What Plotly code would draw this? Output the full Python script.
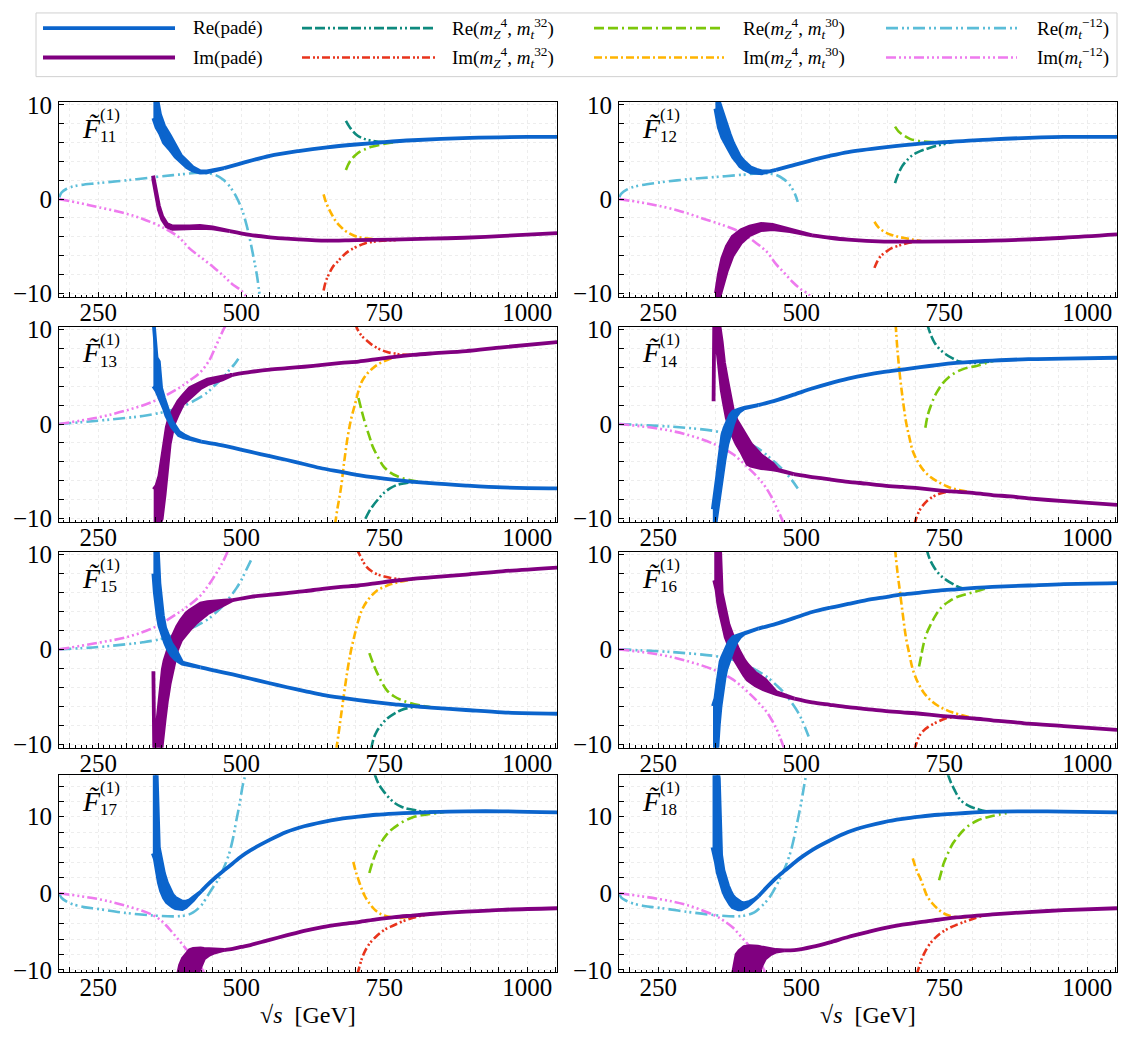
import plotly.graph_objects as go

FONT = "Liberation Serif, Times New Roman, serif"
FIG_W, FIG_H = 1123, 1044

X_RANGE = [181.5, 1052]
Y_RANGE_TOP = [-10.4, 10.3]
Y_RANGE_BOT = [-10.3, 15.4]
X_TICKS = list(range(200, 1051, 50))
X_TICKTEXT = [str(v) if v in (250, 500, 750, 1000) else "" for v in X_TICKS]
X_MINOR = [v for v in range(190, 1051, 10) if v % 50]
Y_TICKS_TOP = list(range(-10, 11, 2))
Y_TICKS_BOT = list(range(-10, 15, 2))
PANEL_IDS = ["11", "12", "13", "14", "15", "16", "17", "18"]

# ---------------- F11 ----------------
F11_RE_PADE_X = [346.5, 352, 358, 365, 375, 385, 395, 405, 415, 428, 440, 470, 500, 550, 600, 650, 700, 750, 800, 900, 1000, 1052]
F11_RE_PADE_LO = [8.6, 7.6, 7.0, 6.0, 5.3, 4.5, 3.9, 3.4, 3.05, 2.82, 2.85, 3.3, 3.8, 4.6, 5.1, 5.5, 5.8, 6.05, 6.25, 6.5, 6.6, 6.6]
F11_RE_PADE_HI = [11.0, 11.0, 9.0, 7.8, 6.8, 5.6, 4.6, 4.0, 3.4, 2.98, 2.95, 3.3, 3.8, 4.6, 5.1, 5.5, 5.8, 6.05, 6.25, 6.5, 6.6, 6.6]
F11_IM_PADE_X = [346, 349, 352, 356, 362, 370, 380, 395, 410, 428, 450, 480, 515, 550, 580, 640, 700, 765, 830, 890, 960, 1052]
F11_IM_PADE_LO = [2.2, 1.2, 0.2, -1.1, -2.15, -2.9, -3.15, -3.15, -3.1, -3.05, -3.1, -3.4, -3.8, -4.05, -4.2, -4.4, -4.35, -4.3, -4.2, -4.1, -3.9, -3.6]
F11_IM_PADE_HI = [2.5, 1.6, 0.6, -0.7, -1.85, -2.65, -2.9, -2.95, -2.9, -2.85, -3.0, -3.4, -3.8, -4.05, -4.2, -4.4, -4.35, -4.3, -4.2, -4.1, -3.9, -3.6]
F11_RE12_X = [182, 186, 195, 210, 250, 300, 350, 390, 428, 453, 470, 484, 495, 503, 510, 516, 522, 528, 533]
F11_RE12_Y = [0.2, 0.7, 1.1, 1.4, 1.7, 2.0, 2.35, 2.6, 2.8, 2.6, 2.0, 1.0, -0.2, -1.4, -2.9, -4.5, -6.3, -8.3, -10.6]
F11_IM12_X = [182, 220, 250, 290, 328, 366, 390, 409, 430, 453, 470, 484, 500, 512]
F11_IM12_Y = [0, -0.45, -0.85, -1.4, -2.1, -3.1, -4.0, -5.2, -6.2, -7.3, -8.2, -9.0, -9.7, -10.6]
F11_RE32_X = [683, 690, 703, 715, 728, 753, 780]
F11_RE32_Y = [8.3, 7.6, 6.75, 6.4, 6.2, 6.05, 6.15]
F11_RE30_X = [683, 690, 703, 715, 728, 753, 780]
F11_RE30_Y = [3.1, 4.0, 4.85, 5.25, 5.55, 5.9, 6.15]
F11_IM30_X = [644, 648, 653, 660, 666, 675, 684, 703, 734, 760]
F11_IM30_Y = [0.5, -0.3, -1.0, -1.8, -2.4, -3.0, -3.45, -4.0, -4.25, -4.3]
F11_IM32_X = [644, 648, 653, 660, 669, 680, 691, 716, 741, 770]
F11_IM32_Y = [-9.7, -8.7, -8.0, -7.2, -6.6, -5.9, -5.4, -4.7, -4.45, -4.35]

# ---------------- F12 ----------------
F12_RE_PADE_X = [350, 356, 362, 368, 375, 381, 387, 393, 400, 412, 422, 431, 445, 456, 480, 519, 550, 582, 645, 708, 750, 834, 959, 1052]
F12_RE_PADE_LO = [9.6, 7.6, 6.55, 5.8, 5.1, 4.45, 4.0, 3.5, 3.2, 2.85, 2.78, 2.75, 2.85, 3.1, 3.5, 4.15, 4.6, 5.0, 5.5, 5.9, 6.05, 6.35, 6.6, 6.6]
F12_RE_PADE_HI = [11.5, 10.4, 9.05, 8.0, 6.9, 5.95, 5.2, 4.5, 4.0, 3.35, 3.12, 2.95, 2.95, 3.1, 3.5, 4.15, 4.6, 5.0, 5.5, 5.9, 6.05, 6.35, 6.6, 6.6]
F12_IM_PADE_X = [351, 356, 362, 370, 380, 395, 410, 430, 450, 480, 519, 550, 582, 645, 708, 834, 959, 1052]
F12_IM_PADE_LO = [-11.0, -10.6, -9.5, -7.6, -6.0, -4.6, -3.8, -3.28, -3.18, -3.4, -3.85, -4.1, -4.3, -4.5, -4.5, -4.4, -4.1, -3.75]
F12_IM_PADE_HI = [-10.0, -8.0, -6.3, -5.0, -4.0, -3.3, -2.9, -2.62, -2.72, -3.2, -3.85, -4.1, -4.3, -4.5, -4.5, -4.4, -4.1, -3.75]
F12_RE12_X = [182, 186, 195, 210, 250, 300, 350, 400, 430, 455, 470, 480, 488, 494]
F12_RE12_Y = [0.2, 0.6, 1.0, 1.35, 1.75, 2.1, 2.35, 2.6, 2.75, 2.6, 2.1, 1.5, 0.7, -0.3]
F12_IM12_X = [182, 220, 250, 290, 330, 365, 393, 420, 440, 456, 470, 485, 500, 513, 518]
F12_IM12_Y = [0, -0.35, -0.7, -1.3, -2.1, -2.8, -3.5, -4.6, -5.6, -6.9, -7.8, -8.8, -9.6, -10.1, -10.6]
F12_RE30_X = [664, 670, 676, 690, 708, 730, 760]
F12_RE30_Y = [7.7, 7.2, 6.9, 6.4, 6.15, 6.05, 6.1]
F12_RE32_X = [664, 668, 676, 686, 695, 708, 720, 735, 746, 770]
F12_RE32_Y = [1.7, 2.4, 3.45, 4.2, 4.7, 5.1, 5.35, 5.65, 5.8, 6.12]
F12_IM30_X = [628, 635, 645, 658, 670, 683, 695, 710]
F12_IM30_Y = [-2.4, -3.0, -3.45, -3.8, -4.0, -4.15, -4.3, -4.45]
F12_IM32_X = [628, 633, 639, 648, 658, 670, 683, 695, 710]
F12_IM32_Y = [-7.3, -6.6, -6.05, -5.6, -5.2, -4.95, -4.7, -4.55, -4.45]

# ---------------- F13 ----------------
F13_RE_PADE_X = [346.5, 352, 356, 360, 365, 369, 374, 379, 385, 391, 400, 410, 430, 454, 485, 517, 550, 580, 611, 642, 675, 705, 768, 831, 893, 956, 1053]
F13_RE_PADE_LO = [4.0, 3.5, 3.1, 2.45, 1.65, 0.9, 0.3, -0.3, -0.75, -1.18, -1.42, -1.62, -1.85, -2.1, -2.5, -2.95, -3.4, -3.8, -4.25, -4.7, -5.05, -5.4, -5.9, -6.25, -6.5, -6.7, -6.8]
F13_RE_PADE_HI = [11.0, 7.0, 6.6, 3.8, 2.75, 1.9, 1.1, 0.3, -0.25, -0.82, -1.18, -1.48, -1.85, -2.1, -2.5, -2.95, -3.4, -3.8, -4.25, -4.7, -5.05, -5.4, -5.9, -6.25, -6.5, -6.7, -6.8]
F13_IM_PADE_X = [347, 352, 357, 361, 366, 370, 375, 382, 390, 398, 410, 429, 441, 467, 485, 517, 550, 580, 610, 642, 675, 705, 737, 768, 800, 831, 893, 956, 1053]
F13_IM_PADE_LO = [-10.6, -10.6, -10.6, -10.0, -7.5, -5.5, -2.1, 0.0, 1.1, 2.1, 2.8, 3.8, 4.2, 4.7, 5.2, 5.5, 5.75, 5.9, 6.05, 6.25, 6.45, 6.6, 6.85, 7.1, 7.3, 7.45, 7.7, 8.1, 8.65]
F13_IM_PADE_HI = [-6.9, -6.5, -5.5, -3.8, -2.1, -0.3, 0.8, 1.6, 2.4, 3.0, 3.8, 4.35, 4.7, 5.0, 5.2, 5.5, 5.75, 5.9, 6.05, 6.25, 6.45, 6.6, 6.85, 7.1, 7.3, 7.45, 7.7, 8.1, 8.65]
F13_RE12_X = [182, 250, 300, 328, 360, 391, 422, 440, 454, 470, 479, 488, 495]
F13_RE12_Y = [0, 0.35, 0.65, 0.85, 1.2, 1.7, 2.6, 3.3, 4.1, 5.0, 5.7, 6.3, 6.9]
F13_IM12_X = [182, 250, 297, 347, 391, 410, 429, 445, 454, 463, 470, 476]
F13_IM12_Y = [0, 0.7, 1.4, 2.4, 3.8, 4.6, 5.5, 6.8, 8.0, 9.2, 10.1, 10.7]
F13_IM32_X = [699, 705, 711, 720, 730, 742, 755, 768, 780, 800]
F13_IM32_Y = [10.6, 9.8, 9.3, 8.8, 8.3, 7.9, 7.6, 7.45, 7.35, 7.3]
F13_IM30_X = [664, 668, 674, 680, 686, 692, 699, 705, 711, 720, 730, 742, 755, 768, 780, 800]
F13_IM30_Y = [-10.6, -9.0, -6.9, -4.0, -1.4, 0.5, 2.1, 3.5, 4.5, 5.3, 5.9, 6.4, 6.75, 7.05, 7.25, 7.3]
F13_RE30_X = [705, 711, 717, 724, 730, 740, 749, 760, 774, 790, 806, 830]
F13_RE30_Y = [2.75, 1.3, 0.0, -1.3, -2.4, -3.6, -4.5, -5.1, -5.55, -5.85, -6.05, -6.25]
F13_RE32_X = [717, 723, 730, 740, 749, 760, 774, 787, 800, 820]
F13_RE32_Y = [-10.0, -9.3, -8.65, -7.9, -7.3, -6.8, -6.4, -6.25, -6.15, -6.2]

# ---------------- F14 ----------------
F14_RE_PADE_X = [345.5, 350, 353, 356, 359, 362, 366, 371, 376, 381, 386, 392, 400, 425, 456, 487, 519, 550, 582, 614, 645, 677, 708, 740, 771, 803, 834, 897, 959, 1052]
F14_RE_PADE_LO = [-10.6, -10.6, -9.6, -8.0, -6.5, -5.6, -3.8, -2.1, -0.9, 0.0, 0.8, 1.3, 1.65, 2.0, 2.5, 3.1, 3.75, 4.3, 4.8, 5.2, 5.5, 5.75, 6.0, 6.25, 6.45, 6.6, 6.7, 6.85, 6.9, 7.0]
F14_RE_PADE_HI = [-9.0, -7.2, -5.6, -4.0, -2.1, -1.2, -0.4, 0.4, 0.95, 1.3, 1.45, 1.55, 1.7, 2.0, 2.5, 3.1, 3.75, 4.3, 4.8, 5.2, 5.5, 5.75, 6.0, 6.25, 6.45, 6.6, 6.7, 6.85, 6.9, 7.0]
F14_IM_PADE_X = [346.8, 348, 352, 356, 361, 365, 370, 377, 381, 387, 395, 406, 412, 430, 450, 460, 487, 519, 550, 582, 614, 645, 677, 708, 740, 771, 803, 834, 866, 897, 959, 1052]
F14_IM_PADE_LO = [2.4, 10.8, 8.5, 6.5, 3.6, 2.2, 0.6, -0.5, -1.3, -2.1, -2.9, -4.2, -4.4, -4.65, -4.8, -4.9, -5.3, -5.6, -5.85, -6.1, -6.3, -6.5, -6.65, -6.8, -7.0, -7.15, -7.3, -7.5, -7.65, -7.85, -8.15, -8.55]
F14_IM_PADE_HI = [10.8, 10.8, 10.8, 10.8, 8.7, 6.5, 4.8, 2.4, 1.3, 0.4, -0.4, -1.6, -2.1, -3.3, -4.2, -4.85, -5.3, -5.6, -5.85, -6.1, -6.3, -6.5, -6.65, -6.8, -7.0, -7.15, -7.3, -7.5, -7.65, -7.85, -8.15, -8.55]
F14_RE12_X = [182, 252, 299, 349, 381, 412, 430, 444, 457, 469, 482, 494]
F14_RE12_Y = [0, -0.2, -0.4, -0.75, -1.3, -2.15, -2.8, -3.5, -4.2, -4.9, -5.8, -6.8]
F14_IM12_X = [182, 252, 299, 349, 381, 412, 425, 437, 447, 456, 463, 470]
F14_IM12_Y = [0, -0.5, -1.1, -2.15, -3.2, -4.9, -5.7, -6.6, -7.6, -8.7, -9.6, -10.6]
F14_IM30_X = [665, 668, 673, 678, 683, 689, 695, 704, 714, 726, 739, 752, 764, 783, 800]
F14_IM30_Y = [10.6, 8.0, 4.85, 2.4, 0.3, -1.4, -2.85, -4.0, -4.9, -5.6, -6.1, -6.5, -6.8, -7.05, -7.28]
F14_IM32_X = [698, 702, 708, 717, 727, 740, 752, 771, 790]
F14_IM32_Y = [-10.6, -9.8, -9.0, -8.3, -7.8, -7.4, -7.2, -7.15, -7.22]
F14_RE32_X = [720, 726, 733, 742, 752, 764, 777, 795, 815, 840]
F14_RE32_Y = [10.6, 9.5, 8.6, 7.9, 7.4, 6.95, 6.6, 6.45, 6.5, 6.7]
F14_RE30_X = [717, 721, 727, 733, 739, 748, 758, 770, 783, 795, 808, 835]
F14_RE30_Y = [-0.4, 0.9, 2.0, 2.9, 3.55, 4.35, 4.95, 5.45, 5.8, 6.0, 6.15, 6.68]

# ---------------- F15 ----------------
F15_RE_PADE_X = [346.5, 349, 351, 354, 357, 360, 363, 367, 372, 378, 385, 391, 397, 429, 454, 485, 517, 548, 580, 611, 642, 674, 705, 737, 768, 800, 831, 893, 956, 1053]
F15_RE_PADE_LO = [8.0, 6.0, 4.85, 3.5, 2.5, 1.9, 1.4, 0.7, 0.0, -0.6, -1.05, -1.3, -1.5, -1.9, -2.25, -2.65, -3.1, -3.55, -4.0, -4.4, -4.8, -5.1, -5.35, -5.6, -5.8, -6.0, -6.15, -6.4, -6.65, -6.8]
F15_RE_PADE_HI = [10.8, 10.8, 10.8, 10.8, 7.0, 4.85, 3.6, 2.3, 1.4, 0.6, 0.0, -0.8, -1.4, -1.9, -2.25, -2.65, -3.1, -3.55, -4.0, -4.4, -4.8, -5.1, -5.35, -5.6, -5.8, -6.0, -6.15, -6.4, -6.65, -6.8]
F15_IM_PADE_X = [346.5, 348, 352, 357, 360, 363, 366, 370, 372, 375, 379, 385, 388, 395, 404, 410, 420, 429, 441, 455, 470, 485, 517, 548, 580, 611, 642, 674, 705, 737, 768, 800, 831, 893, 956, 1053]
F15_IM_PADE_LO = [-10.8, -10.8, -10.8, -10.8, -10.8, -9.0, -7.5, -5.5, -4.8, -3.6, -2.1, -0.8, 0.0, 1.0, 1.7, 2.1, 2.75, 3.2, 3.8, 4.3, 4.7, 5.2, 5.55, 5.75, 5.95, 6.15, 6.4, 6.6, 6.75, 7.0, 7.25, 7.45, 7.6, 7.9, 8.25, 8.65]
F15_IM_PADE_HI = [-2.3, -10.8, -8.5, -5.5, -3.8, -2.1, -1.2, -0.3, 0.0, 0.5, 1.2, 2.1, 2.4, 3.1, 3.8, 4.1, 4.5, 4.85, 5.0, 5.1, 5.15, 5.2, 5.55, 5.75, 5.95, 6.15, 6.4, 6.6, 6.75, 7.0, 7.25, 7.45, 7.6, 7.9, 8.25, 8.65]
F15_RE12_X = [182, 250, 300, 328, 360, 391, 422, 440, 454, 468, 480, 492, 500, 508, 517]
F15_RE12_Y = [0, 0.25, 0.55, 0.75, 1.1, 1.7, 2.5, 3.1, 3.8, 4.6, 5.5, 6.5, 7.3, 8.3, 9.4]
F15_IM12_X = [182, 250, 300, 347, 391, 410, 429, 442, 454, 463, 470, 478]
F15_IM12_Y = [0, 0.7, 1.3, 2.3, 3.9, 4.7, 5.7, 6.7, 7.8, 8.7, 9.5, 10.6]
F15_IM32_X = [702, 707, 712, 718, 727, 737, 750, 762, 775, 787, 805]
F15_IM32_Y = [10.6, 10.0, 9.4, 8.8, 8.3, 7.95, 7.7, 7.55, 7.42, 7.35, 7.47]
F15_IM30_X = [666, 670, 674, 680, 686, 692, 699, 705, 711, 720, 737, 750, 762, 775, 787, 805]
F15_IM30_Y = [-10.6, -9.0, -7.2, -4.6, -2.1, -0.1, 1.7, 3.1, 4.15, 5.1, 6.2, 6.6, 6.9, 7.1, 7.25, 7.47]
F15_RE30_X = [724, 730, 737, 746, 755, 767, 780, 795, 812, 835]
F15_RE30_Y = [-0.4, -1.4, -2.4, -3.5, -4.35, -4.95, -5.35, -5.65, -5.9, -6.15]
F15_RE32_X = [727, 731, 737, 746, 755, 767, 780, 795, 812, 835]
F15_RE32_Y = [-10.6, -9.5, -8.65, -7.9, -7.3, -6.8, -6.4, -6.15, -6.05, -6.15]

# ---------------- F16 ----------------
F16_RE_PADE_X = [345.8, 347, 350, 353, 356, 359, 362, 366, 369, 374, 381, 387, 393, 400, 425, 456, 487, 519, 550, 582, 614, 645, 677, 708, 740, 771, 803, 834, 897, 959, 1052]
F16_RE_PADE_LO = [-10.8, -10.8, -10.8, -10.8, -8.0, -6.0, -4.5, -3.0, -2.1, -1.1, 0.0, 0.8, 1.3, 1.65, 2.2, 2.7, 3.3, 3.95, 4.4, 4.8, 5.2, 5.5, 5.8, 6.0, 6.2, 6.35, 6.5, 6.6, 6.75, 6.9, 7.0]
F16_RE_PADE_HI = [-6.0, -5.8, -5.2, -3.8, -2.1, -1.3, -0.8, -0.25, 0.2, 0.8, 1.3, 1.45, 1.55, 1.7, 2.2, 2.7, 3.3, 3.95, 4.4, 4.8, 5.2, 5.5, 5.8, 6.0, 6.2, 6.35, 6.5, 6.6, 6.75, 6.9, 7.0]
F16_IM_PADE_X = [348, 352, 355, 358, 361, 365, 368, 373, 381, 384, 390, 400, 406, 420, 437, 456, 488, 519, 550, 582, 614, 645, 677, 708, 740, 771, 803, 834, 866, 897, 959, 1052]
F16_IM_PADE_LO = [7.3, 6.3, 4.85, 3.9, 3.0, 2.1, 1.3, 0.4, -0.7, -1.1, -1.8, -2.7, -3.2, -3.8, -4.3, -4.7, -5.2, -5.6, -5.85, -6.1, -6.3, -6.5, -6.65, -6.8, -7.0, -7.15, -7.3, -7.5, -7.65, -7.85, -8.1, -8.5]
F16_IM_PADE_HI = [10.8, 10.8, 10.8, 10.8, 6.0, 4.85, 3.9, 2.6, 1.3, 0.8, 0.0, -1.1, -1.6, -2.5, -3.2, -4.5, -5.2, -5.6, -5.85, -6.1, -6.3, -6.5, -6.65, -6.8, -7.0, -7.15, -7.3, -7.5, -7.65, -7.85, -8.1, -8.5]
F16_RE12_X = [182, 252, 299, 349, 381, 412, 430, 444, 457, 469, 482, 494, 503, 513]
F16_RE12_Y = [0, -0.2, -0.4, -0.7, -1.1, -1.9, -2.5, -3.1, -3.8, -4.5, -5.5, -6.6, -7.7, -9.2]
F16_IM12_X = [182, 252, 299, 349, 381, 412, 425, 437, 447, 456, 463, 471]
F16_IM12_Y = [0, -0.55, -1.2, -2.2, -3.2, -4.8, -5.6, -6.4, -7.3, -8.3, -9.3, -10.6]
F16_IM30_X = [664, 668, 673, 678, 683, 689, 695, 704, 714, 726, 739, 752, 764, 790, 805]
F16_IM30_Y = [10.6, 8.3, 5.9, 3.5, 1.3, -0.5, -2.1, -3.5, -4.55, -5.35, -5.95, -6.35, -6.65, -7.1, -7.32]
F16_IM32_X = [698, 702, 708, 717, 727, 740, 752, 764, 777, 795]
F16_IM32_Y = [-10.6, -9.8, -9.0, -8.4, -8.0, -7.6, -7.3, -7.15, -7.1, -7.27]
F16_RE32_X = [719, 725, 733, 742, 752, 764, 777, 790, 802, 825]
F16_RE32_Y = [10.6, 9.5, 8.6, 7.9, 7.4, 6.95, 6.55, 6.4, 6.45, 6.57]
F16_RE30_X = [706, 710, 714, 720, 727, 736, 746, 758, 771, 786, 802, 825]
F16_RE30_Y = [-1.8, -0.6, 0.6, 1.8, 2.7, 3.7, 4.5, 5.05, 5.5, 5.8, 6.05, 6.5]

# ---------------- F17 ----------------
F17_RE_PADE_X = [345.5, 349, 352, 356, 360, 365, 370, 375, 380, 385, 391, 397, 403, 410, 416, 422, 430, 441, 454, 470, 485, 500, 516, 548, 579, 610, 642, 673, 705, 736, 768, 799, 830, 893, 956, 1053]
F17_RE_PADE_LO = [5.2, 4.5, 3.4, 1.4, 0.3, -0.6, -1.15, -1.5, -1.75, -1.95, -2.05, -2.05, -1.8, -1.4, -0.9, -0.35, 0.25, 1.1, 2.0, 3.0, 3.9, 4.8, 5.6, 6.9, 8.0, 8.75, 9.3, 9.7, 10.0, 10.25, 10.4, 10.5, 10.6, 10.7, 10.7, 10.55]
F17_RE_PADE_HI = [16.0, 16.0, 16.0, 6.0, 4.2, 2.6, 1.4, 0.5, -0.2, -0.6, -0.9, -1.1, -1.1, -0.9, -0.55, -0.2, 0.25, 1.1, 2.0, 3.0, 3.9, 4.8, 5.6, 6.9, 8.0, 8.75, 9.3, 9.7, 10.0, 10.25, 10.4, 10.5, 10.6, 10.7, 10.7, 10.55]
F17_IM_PADE_X = [389, 393, 398, 404, 410, 416, 422, 429, 435, 444, 454, 470, 485, 500, 516, 548, 579, 610, 642, 673, 705, 736, 768, 799, 830, 893, 956, 1053]
F17_IM_PADE_LO = [-10.8, -10.8, -10.8, -10.8, -10.8, -10.8, -10.8, -9.6, -8.5, -8.0, -7.7, -7.4, -7.25, -7.0, -6.75, -6.1, -5.5, -4.9, -4.4, -4.05, -3.75, -3.4, -3.1, -2.9, -2.7, -2.4, -2.15, -1.95]
F17_IM_PADE_HI = [-10.8, -9.4, -8.5, -7.85, -7.4, -7.25, -7.2, -7.2, -7.25, -7.3, -7.4, -7.4, -7.25, -7.0, -6.75, -6.1, -5.5, -4.9, -4.4, -4.05, -3.75, -3.4, -3.1, -2.9, -2.7, -2.4, -2.15, -1.95]
F17_RE12_X = [182, 186, 195, 204, 225, 250, 297, 347, 385, 405, 416, 430, 441, 450, 460, 470, 479, 486, 491, 497, 503, 508]
F17_RE12_Y = [0, -0.6, -1.1, -1.4, -1.8, -2.05, -2.55, -2.9, -3.0, -2.85, -2.5, -1.6, -0.35, 0.7, 1.8, 3.4, 5.2, 7.3, 9.3, 11.6, 14.2, 15.6]
F17_IM12_X = [182, 250, 297, 347, 365, 379, 392, 403, 413, 422, 430, 437]
F17_IM12_Y = [0, -0.75, -1.6, -2.9, -3.9, -5.05, -6.2, -7.2, -8.1, -8.9, -9.7, -10.6]
F17_IM30_X = [696, 700, 703, 709, 716, 725, 735, 745, 754, 766, 779, 800, 820]
F17_IM30_Y = [4.1, 2.9, 2.2, 0.9, -0.35, -1.4, -2.25, -2.75, -3.0, -3.15, -3.2, -3.0, -2.8]
F17_IM32_X = [703, 707, 711, 716, 725, 735, 745, 754, 766, 779, 800, 820, 840]
F17_IM32_Y = [-10.6, -9.5, -8.5, -7.6, -6.5, -5.7, -5.05, -4.6, -4.2, -3.75, -3.2, -2.85, -2.65]
F17_RE32_X = [733, 740, 749, 758, 768, 780, 793, 805, 818, 840]
F17_RE32_Y = [15.6, 14.3, 13.3, 12.5, 11.8, 11.3, 11.0, 10.85, 10.65, 10.65]
F17_RE30_X = [724, 728, 733, 740, 749, 758, 768, 783, 799, 815, 830, 855]
F17_RE30_Y = [2.65, 3.7, 4.8, 6.0, 7.15, 8.0, 8.6, 9.35, 9.9, 10.2, 10.35, 10.6]

# ---------------- F18 ----------------
F18_RE_PADE_X = [345, 348, 351, 354, 356, 360, 364, 368, 372, 376, 380, 385, 390, 395, 400, 405, 410, 418, 425, 440, 456, 472, 488, 503, 519, 550, 582, 614, 645, 677, 708, 740, 771, 803, 834, 897, 959, 1052]
F18_RE_PADE_LO = [6.0, 5.0, 4.0, 2.7, 2.0, 1.3, 0.2, -0.45, -1.0, -1.45, -1.8, -1.95, -2.1, -2.1, -1.9, -1.7, -1.4, -0.9, -0.4, 0.8, 2.0, 3.0, 4.0, 4.85, 5.65, 6.9, 8.0, 8.75, 9.3, 9.7, 10.0, 10.25, 10.4, 10.55, 10.65, 10.7, 10.65, 10.55]
F18_RE_PADE_HI = [16.0, 16.0, 16.0, 16.0, 15.0, 5.0, 3.0, 1.9, 1.0, 0.3, -0.3, -0.7, -1.0, -1.2, -1.3, -1.25, -1.1, -0.8, -0.4, 0.8, 2.0, 3.0, 4.0, 4.85, 5.65, 6.9, 8.0, 8.75, 9.3, 9.7, 10.0, 10.25, 10.4, 10.55, 10.65, 10.7, 10.65, 10.55]
F18_IM_PADE_X = [380, 384, 387, 392, 400, 410, 419, 424, 430, 437, 446, 456, 470, 488, 503, 519, 550, 582, 614, 645, 677, 708, 740, 771, 803, 834, 897, 959, 1052]
F18_IM_PADE_LO = [-10.8, -10.8, -10.8, -10.8, -10.8, -10.8, -10.8, -10.8, -9.5, -8.5, -7.95, -7.6, -7.45, -7.4, -7.25, -7.0, -6.4, -5.7, -5.1, -4.55, -4.1, -3.75, -3.45, -3.15, -2.95, -2.75, -2.45, -2.2, -1.95]
F18_IM_PADE_HI = [-10.8, -9.0, -8.0, -7.5, -7.0, -6.9, -6.9, -6.95, -7.05, -7.15, -7.3, -7.4, -7.45, -7.4, -7.25, -7.0, -6.4, -5.7, -5.1, -4.55, -4.1, -3.75, -3.45, -3.15, -2.95, -2.75, -2.45, -2.2, -1.95]
F18_RE12_X = [182, 186, 195, 205, 225, 252, 299, 349, 387, 405, 418, 432, 444, 453, 462, 472, 481, 488, 494, 500, 505, 509]
F18_RE12_Y = [0, -0.6, -1.0, -1.3, -1.65, -1.9, -2.4, -2.85, -3.0, -2.85, -2.5, -1.6, -0.6, 0.5, 1.8, 3.4, 5.3, 7.4, 9.6, 11.8, 14.0, 15.6]
F18_IM12_X = [182, 252, 299, 349, 365, 381, 393, 405, 414, 422, 430, 438]
F18_IM12_Y = [0, -0.75, -1.5, -2.9, -3.6, -4.5, -5.5, -6.5, -7.4, -8.3, -9.2, -10.6]
F18_IM30_X = [695, 699, 704, 708, 714, 720, 729, 739, 748, 758, 770, 783, 805]
F18_IM30_Y = [4.55, 3.6, 2.6, 2.0, 0.8, -0.35, -1.3, -2.05, -2.55, -2.9, -3.1, -3.15, -2.95]
F18_IM32_X = [702, 706, 710, 714, 722, 733, 742, 752, 764, 777, 790, 802, 820]
F18_IM32_Y = [-10.6, -9.6, -8.7, -8.0, -6.9, -5.9, -5.3, -4.8, -4.35, -3.95, -3.6, -3.3, -2.85]
F18_RE32_X = [756, 762, 768, 772, 777, 786, 796, 808, 821, 846]
F18_RE32_Y = [15.6, 14.4, 13.5, 12.9, 12.3, 11.7, 11.3, 11.0, 10.75, 10.65]
F18_RE30_X = [741, 745, 749, 757, 765, 774, 783, 795, 808, 821, 834, 859]
F18_RE30_Y = [1.7, 2.8, 3.9, 5.3, 6.5, 7.4, 8.2, 8.95, 9.5, 9.85, 10.1, 10.45]

# ---------------- styles ----------------
C_RE_PADE = "#0b64cc"
C_IM_PADE = "#800080"
EXP_STYLES = [  # key, color, dash, legend label
    ("RE32", "#0e8a7e", "10px,3px,10px,3px,2px,3px,2px,3px", "Re(<i>m</i><sub><i>Z</i></sub><sup>4</sup>, <i>m</i><sub><i>t</i></sub><sup>32</sup>)"),
    ("IM32", "#e8341c", "8px,3px,2px,2px,2px,3px", "Im(<i>m</i><sub><i>Z</i></sub><sup>4</sup>, <i>m</i><sub><i>t</i></sub><sup>32</sup>)"),
    ("RE30", "#7cc70a", "10px,4px,10px,4px,2px,4px", "Re(<i>m</i><sub><i>Z</i></sub><sup>4</sup>, <i>m</i><sub><i>t</i></sub><sup>30</sup>)"),
    ("IM30", "#ffb400", "8px,3px,2px,3px", "Im(<i>m</i><sub><i>Z</i></sub><sup>4</sup>, <i>m</i><sub><i>t</i></sub><sup>30</sup>)"),
    ("RE12", "#5bbdd8", "12px,4px,2px,3px,2px,4px", "Re(<i>m</i><sub><i>t</i></sub><sup>−12</sup>)"),
    ("IM12", "#ee7aee", "10px,3px,2px,3px,2px,3px,2px,3px", "Im(<i>m</i><sub><i>t</i></sub><sup>−12</sup>)"),
]
STYLE = {k: (c, d) for k, c, d, _ in EXP_STYLES}
LABEL = {k: l for k, _, _, l in EXP_STYLES}
PADE_W = 3.8

COLS_PX = [(59, 557), (619, 1117)]
ROWS_PX = [(94, 293), (323, 523), (553, 753), (781, 982)]

G = globals()
fig = go.Figure()
layout = dict(
    width=FIG_W, height=FIG_H, margin=dict(l=0, r=0, t=0, b=0),
    paper_bgcolor="white", plot_bgcolor="white", showlegend=False,
    font=dict(family=FONT, color="black"),
)
annotations, shapes = [], []

for i, pid in enumerate(PANEL_IDS):
    row, col = divmod(i, 2)
    n = i + 1
    xr = "x" if n == 1 else f"x{n}"
    yr = "y" if n == 1 else f"y{n}"
    bottom = row == 3
    # expansions below, pade on top
    for key in ["RE12", "IM12", "RE32", "RE30", "IM30", "IM32"]:
        xs = G[f"F{pid}_{key}_X"]
        ys = G[f"F{pid}_{key}_Y"]
        assert len(xs) == len(ys), (pid, key)
        c, d = STYLE[key]
        fig.add_trace(go.Scatter(x=xs, y=ys, mode="lines", xaxis=xr, yaxis=yr,
                                 line=dict(color=c, width=2.6, dash=d, shape="spline", smoothing=1.0),
                                 hoverinfo="skip"))
    for key, c in [("IM_PADE", C_IM_PADE), ("RE_PADE", C_RE_PADE)]:
        xs = list(G[f"F{pid}_{key}_X"])
        lo = list(G[f"F{pid}_{key}_LO"])
        hi = list(G[f"F{pid}_{key}_HI"])
        assert len(xs) == len(lo) == len(hi), (pid, key)
        # k: start of the thin tail where all approximants agree (lo == hi)
        k = len(xs) - 1
        while k > 0 and lo[k - 1] == hi[k - 1]:
            k -= 1
        if k > 0:
            bx = xs[:k + 1]
            fig.add_trace(go.Scatter(x=bx + bx[::-1], y=hi[:k + 1] + lo[:k + 1][::-1],
                                     mode="lines", fill="toself", fillcolor=c, xaxis=xr, yaxis=yr,
                                     line=dict(color=c, width=PADE_W), hoverinfo="skip"))
        if k < len(xs) - 1:
            fig.add_trace(go.Scatter(x=xs[k:], y=lo[k:], mode="lines", xaxis=xr, yaxis=yr,
                                     line=dict(color=c, width=PADE_W, shape="spline", smoothing=0.8),
                                     hoverinfo="skip"))

    x0, x1 = COLS_PX[col]
    t, b = ROWS_PX[row]
    yt = Y_TICKS_BOT if bottom else Y_TICKS_TOP
    axis_common = dict(showline=True, mirror=True, linecolor="black", linewidth=1,
                       ticks="inside", tickcolor="black", ticklen=5, tickwidth=1,
                       showgrid=True, gridcolor="rgba(0,0,0,0.07)", griddash="dot", gridwidth=1,
                       zeroline=False, tickfont=dict(family=FONT, size=25, color="black"))
    layout["xaxis" if n == 1 else f"xaxis{n}"] = dict(
        domain=[x0 / FIG_W, x1 / FIG_W], anchor=yr, range=X_RANGE,
        tickmode="array", tickvals=X_TICKS, ticktext=X_TICKTEXT, ticklabelstandoff=-7,
        minor=dict(tickvals=X_MINOR, ticklen=2.5, ticks="inside", tickcolor="black", showgrid=False),
        **axis_common)
    layout["yaxis" if n == 1 else f"yaxis{n}"] = dict(
        domain=[1 - b / FIG_H, 1 - t / FIG_H], anchor=xr,
        range=Y_RANGE_BOT if bottom else Y_RANGE_TOP,
        tickmode="array", tickvals=yt,
        ticktext=[("−10" if v == -10 else str(v)) if v in (-10, 0, 10) else "" for v in yt],
        ticklabelstandoff=1, **axis_common)

    # panel label: F-tilde, with "(1)" stacked over the subscript
    annotations.append(dict(xref="paper", yref="paper", x=(x0 + 21) / FIG_W, y=1 - (t + 27) / FIG_H,
                            xanchor="left", yanchor="middle", showarrow=False,
                            text="<i>F̃</i>", font=dict(family=FONT, size=28)))
    annotations.append(dict(xref="paper", yref="paper", x=(x0 + 39) / FIG_W, y=1 - (t + 24) / FIG_H,
                            xanchor="left", yanchor="middle", align="left", showarrow=False,
                            text=f"(1)<br>{pid}", font=dict(family=FONT, size=17)))
    if bottom:
        annotations.append(dict(xref="paper", yref="paper", x=(x0 + x1) / 2 / FIG_W, y=1 - 1026 / FIG_H,
                                xanchor="center", yanchor="middle", showarrow=False,
                                text="√<i>s</i>  [GeV]", font=dict(family=FONT, size=24)))

# ---------------- legend (drawn in paper coordinates) ----------------
shapes.append(dict(type="rect", xref="paper", yref="paper", x0=36 / FIG_W, x1=1117 / FIG_W,
                   y0=1 - 68 / FIG_H, y1=1 - 3 / FIG_H, line=dict(color="#d0d0d0", width=1),
                   fillcolor="white", layer="below"))
LEG_ROWS_PX = [18.5, 48.5]
LEG_COLS_PX = [(43, 175, 191), (302, 436, 450), (594, 724, 741), (886, 1017, 1035)]
legend_items = [
    [("Re(padé)", C_RE_PADE, "solid", PADE_W), ("Im(padé)", C_IM_PADE, "solid", PADE_W)],
    [(LABEL["RE32"], *STYLE["RE32"], 2.6), (LABEL["IM32"], *STYLE["IM32"], 2.6)],
    [(LABEL["RE30"], *STYLE["RE30"], 2.6), (LABEL["IM30"], *STYLE["IM30"], 2.6)],
    [(LABEL["RE12"], *STYLE["RE12"], 2.6), (LABEL["IM12"], *STYLE["IM12"], 2.6)],
]
for (lx0, lx1, tx), items in zip(LEG_COLS_PX, legend_items):
    for ypx, (txt, c, d, w) in zip(LEG_ROWS_PX, items):
        shapes.append(dict(type="line", xref="paper", yref="paper", x0=lx0 / FIG_W, x1=lx1 / FIG_W,
                           y0=1 - ypx / FIG_H, y1=1 - ypx / FIG_H, line=dict(color=c, width=w, dash=d)))
        annotations.append(dict(xref="paper", yref="paper", x=tx / FIG_W, y=1 - ypx / FIG_H,
                                xanchor="left", yanchor="middle", showarrow=False, text=txt,
                                font=dict(family=FONT, size=19)))

layout["annotations"] = annotations
layout["shapes"] = shapes
fig.update_layout(**layout)
fig.write_html("out.html", config={"displayModeBar": False},
               post_script="document.body.style.margin='0px';document.body.style.overflow='hidden';")
